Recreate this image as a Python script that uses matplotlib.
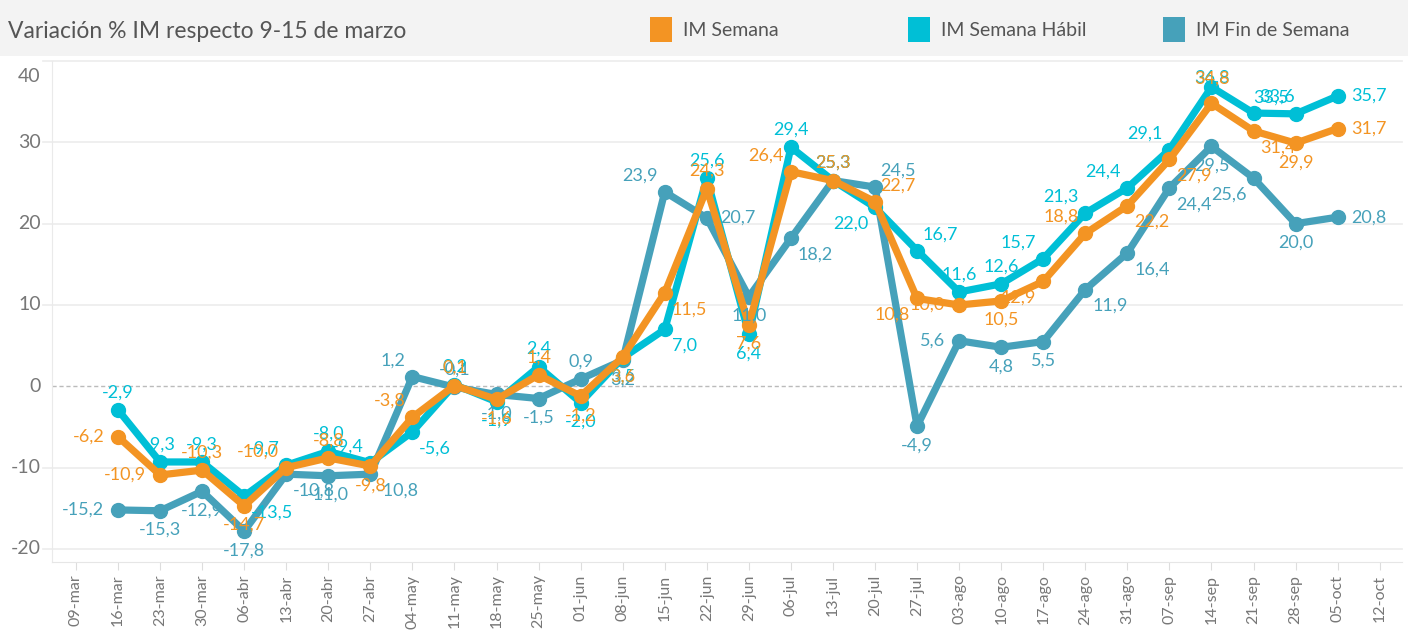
import matplotlib
matplotlib.use("Agg")
import matplotlib.pyplot as plt
from matplotlib.patches import Rectangle

plt.rcParams['font.family'] = ['Lato', 'DejaVu Sans']

categories = ["09-mar", "16-mar", "23-mar", "30-mar", "06-abr", "13-abr", "20-abr", "27-abr",
              "04-may", "11-may", "18-may", "25-may", "01-jun", "08-jun", "15-jun", "22-jun",
              "29-jun", "06-jul", "13-jul", "20-jul", "27-jul", "03-ago", "10-ago", "17-ago",
              "24-ago", "31-ago", "07-sep", "14-sep", "21-sep", "28-sep", "05-oct", "12-oct"]

# values from 16-mar to 05-oct
im_semana = [-6.2, -10.9, -10.3, -14.7, -10.0, -8.8, -9.8, -3.8, 0.1, -1.6, 1.4, -1.2, 3.6,
             11.5, 24.3, 7.6, 26.4, 25.3, 22.7, 10.8, 10.0, 10.5, 12.9, 18.8, 22.2, 27.9,
             34.8, 31.4, 29.9, 31.7]
im_habil = [-2.9, -9.3, -9.3, -13.5, -9.7, -8.0, -9.4, -5.6, 0.2, -1.9, 2.4, -2.0, 3.5,
            7.0, 25.6, 6.4, 29.4, 25.3, 22.0, 16.7, 11.6, 12.6, 15.7, 21.3, 24.4, 29.1,
            36.8, 33.6, 33.5, 35.7]
im_finde = [-15.2, -15.3, -12.9, -17.8, -10.8, -11.0, -10.8, 1.2, -0.1, -1.0, -1.5, 0.9, 3.2,
            23.9, 20.7, 11.0, 18.2, 25.3, 24.5, -4.9, 5.6, 4.8, 5.5, 11.9, 16.4, 24.4,
            29.5, 25.6, 20.0, 20.8]

series_names = ["IM Semana", "IM Semana Hábil", "IM Fin de Semana"]
title = "Variación % IM respecto 9-15 de marzo"
y_ticks = [-20, -10, 0, 10, 20, 30, 40]

# label placement codes (style, not data)
pos_semana = ["L", "L", "A", "B", "AL", "A", "B", "AL", "A", "B", "A", "B", "B",
              "BR", "A", "B", "AL", "A", "AR", "BL", "L", "B", "BL", "AL", "BR", "BR",
              "AA", "BR", "B", "R"]
pos_habil = ["A", "A", "A", "BR", "AL", "A", "AL", "BR", "A", "B", "A", "B", "B",
             "BR", "A", "B", "A", "A", "BL", "AR", "A", "A", "AL", "AL", "AL", "AL",
             "A0", "AR", "AL", "R"]
pos_finde = ["L", "B", "B", "B", "BR", "B", "BR", "AL", "A", "B", "B", "A", "B",
             "AL", "R", "B", "BR", "A", "AR", "B", "L", "B", "B", "BR", "BR", "BR",
             "B", "BL", "B", "R"]

c_orange = "#F39423"
c_cyan = "#00BFD6"
c_teal = "#46A1BA"
c_text = "#666666"

W, H = 1408, 635
fig = plt.figure(figsize=(W / 100, H / 100), dpi=100)

# header band
fig.patches.append(Rectangle((0, 1 - 56 / H), 1, 56 / H, transform=fig.transFigure,
                             facecolor="#f3f3f3", edgecolor="none", zorder=0))
fig.text(8 / W, 1 - 31 / H, title, fontsize=16.5, color="#555555", va="center", ha="left")
leg = [(650, c_orange, series_names[0]), (908, c_cyan, series_names[1]), (1163, c_teal, series_names[2])]
for x0, col, name in leg:
    fig.patches.append(Rectangle((x0 / W, 1 - 42 / H), 22 / W, 25 / H, transform=fig.transFigure,
                                 facecolor=col, edgecolor="none"))
    fig.text((x0 + 33) / W, 1 - 30 / H, name, fontsize=14, color="#555555", va="center", ha="left")

ax_left, ax_right, ax_top, ax_bot = 52, 1402, 61, 562
ax = fig.add_axes([ax_left / W, (H - ax_bot) / H, (ax_right - ax_left) / W, (ax_bot - ax_top) / H])
xs = list(range(1, 31))

for vals, col in [(im_finde, c_teal), (im_habil, c_cyan), (im_semana, c_orange)]:
    ax.plot(xs, vals, color=col, lw=5.2, marker="o", ms=10, solid_joinstyle="round",
            solid_capstyle="round", zorder=3)

offs = {"A": (0, 7, "center", "bottom"), "B": (0, -8, "center", "top"),
        "L": (-10, 0, "right", "center"), "R": (10, 0, "left", "center"),
        "AL": (-5, 6, "right", "bottom"), "AR": (4, 6, "left", "bottom"),
        "BL": (-5, -6, "right", "top"), "BR": (5, -6, "left", "top"),
        "AA": (0, 12, "center", "bottom"), "A0": (0, 1, "center", "bottom")}

for vals, pos, col in [(im_finde, pos_finde, c_teal), (im_habil, pos_habil, c_cyan),
                       (im_semana, pos_semana, c_orange)]:
    for x, v, p in zip(xs, vals, pos):
        dx, dy, ha, va = offs[p]
        ax.annotate(f"{v:.1f}".replace(".", ","), (x, v), xytext=(dx, dy),
                    textcoords="offset points", ha=ha, va=va, fontsize=13, color=col, zorder=5)

ax.set_xlim(-0.57, 31.53)
ax.set_ylim(-21.6, 40)
ax.set_xticks(range(len(categories)))
ax.set_xticklabels(categories, rotation=90, fontsize=11.5, color="#777777")
ax.set_yticks(y_ticks)
ax.set_yticklabels([])
ax.tick_params(axis="y", length=0)
ax.tick_params(axis="x", length=6, color="#dddddd", pad=3)

# y tick labels (Tableau pushes the top one inside)
for y in y_ticks:
    dy = -11 if y == y_ticks[-1] else 0
    ax.annotate(str(y), xy=(0, y), xycoords=("axes fraction", "data"), xytext=(-8, dy),
                textcoords="offset points", ha="right", va="center", fontsize=14,
                color="#777777", annotation_clip=False)

# gridlines extend slightly left of the axis line
for y in y_ticks:
    if y == 0:
        continue
    ax.plot([-9 / (ax_right - ax_left), 1], [y, y], transform=ax.get_yaxis_transform(),
            color="#eeeeee", lw=1.3, zorder=1, clip_on=False)
ax.axhline(0, color="#bbbbbb", lw=1, ls=(0, (3, 2)), zorder=1)

for s in ["top", "right"]:
    ax.spines[s].set_visible(False)
ax.spines["left"].set_color("#eaeaea")
ax.spines["bottom"].set_color("#e6e6e6")

fig.savefig("out.png", dpi=100)
